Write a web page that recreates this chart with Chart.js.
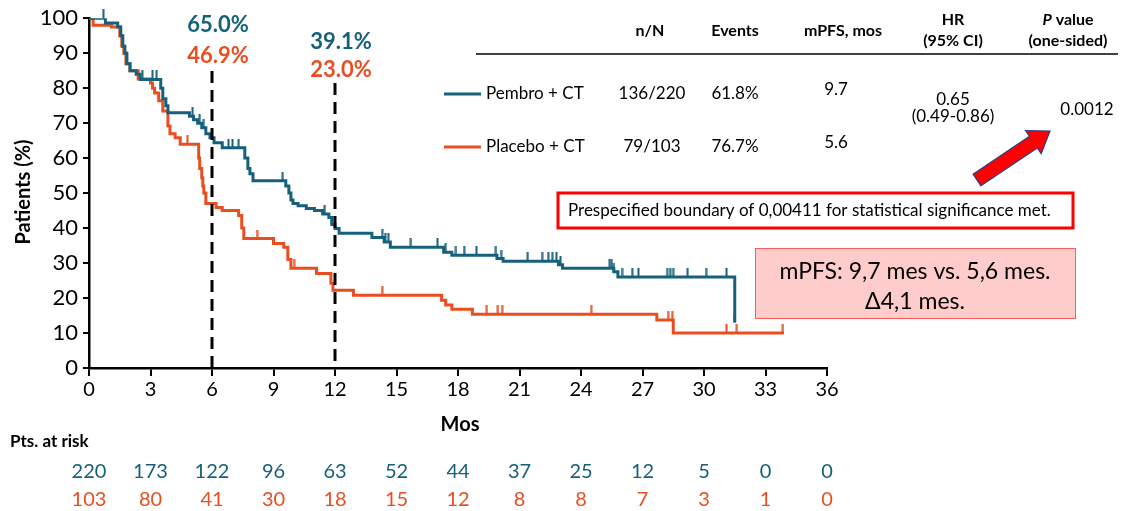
<!DOCTYPE html>
<html>
<head>
<meta charset="utf-8">
<script src="https://cdn.jsdelivr.net/npm/chart.js@4.4.1/dist/chart.umd.min.js"></script>
<style>
  html, body { margin: 0; padding: 0; background: #fff; }
  #km { display: block; }
</style>
</head>
<body>
<canvas id="km" width="1123" height="511"></canvas>
<script>
// ---- data ----
const pembroT = [0, 0.8, 1.4, 1.55, 1.65, 1.75, 1.85, 2.0, 2.3, 2.5, 3.5, 3.6, 3.75, 3.85, 4.9, 5.1, 5.3, 5.5, 5.7, 5.9, 6.1, 6.5, 7.6, 7.75, 7.85, 8.0, 9.6, 9.75, 9.85, 9.95, 10.2, 10.6, 11.0, 11.4, 11.7, 11.85, 12.0, 12.2, 13.8, 14.4, 14.7, 17.3, 17.7, 19.9, 20.2, 22.9, 23.1, 25.6, 25.8, 31.5];
const pembroS = [100, 98.6, 97.5, 95, 92, 90, 87, 85, 84, 82.5, 80, 77, 75, 73, 72, 71, 70, 68.7, 67, 65.8, 64.4, 63, 60, 57, 55.5, 53.5, 52, 50, 48, 47, 46.4, 45.6, 45, 44, 43, 41, 39.9, 38.5, 37.3, 36, 34.5, 33.1, 32.2, 31.3, 30.5, 29.5, 28.5, 27.5, 26, 13];
const pembroCens = [0.7, 2.6, 3.1, 3.3, 5.05, 5.4, 5.6, 6.8, 7.0, 7.3, 9.45, 11.5, 11.85, 14.3, 14.45, 14.6, 15.7, 17.0, 17.4, 17.9, 18.3, 18.9, 19.85, 20.1, 21.4, 22.1, 22.4, 22.6, 22.8, 23.0, 25.4, 25.5, 25.6, 26.0, 26.5, 26.8, 28.2, 28.35, 28.5, 29.2, 30.1, 31.1, 31.5];

const placeboT = [0, 0.2, 1.1, 1.5, 1.6, 1.7, 1.8, 2.0, 2.4, 3.0, 3.1, 3.2, 3.4, 3.6, 3.85, 3.95, 4.2, 4.45, 5.35, 5.4, 5.5, 5.55, 5.6, 5.7, 6.2, 6.5, 7.3, 7.45, 7.55, 9.0, 9.5, 9.7, 9.85, 11.1, 11.8, 11.9, 12.9, 17.2, 17.4, 17.7, 18.7, 27.7, 28.5, 33.9];
const placeboS = [100, 98, 97.5, 95, 92, 90, 87, 85, 82.6, 81.5, 80, 78.6, 76.4, 73.5, 69.2, 67, 65.8, 64, 60, 57, 54.4, 52, 50, 47, 45.9, 45, 43.6, 40, 37, 35.6, 34.5, 31, 28.5, 27, 24.2, 22.2, 20.8, 19.4, 18, 16.8, 15.4, 13.7, 10, 10];
const placeboCens = [4.8, 8.2, 10.0, 14.3, 19.4, 19.95, 20.15, 24.5, 28.25, 28.45, 31.1, 31.6, 33.85];

const xTicks = [0, 3, 6, 9, 12, 15, 18, 21, 24, 27, 30, 33, 36];
const yTicks = [0, 10, 20, 30, 40, 50, 60, 70, 80, 90, 100];
const riskPembro = [220, 173, 122, 96, 63, 52, 44, 37, 25, 12, 5, 0, 0];
const riskPlacebo = [103, 80, 41, 30, 18, 15, 12, 8, 8, 7, 3, 1, 0];

const milestones = [6, 12];
const pembroAt = ['65.0%', '39.1%'];
const placeboAt = ['46.9%', '23.0%'];

const TEAL = '#16607c';
const ORANGE = '#e84e1f';
const FONT = 'Lato, "Open Sans", sans-serif';

// survival value at time t (step function)
function stepAt(T, S, t) {
  let v = S[0];
  for (let i = 0; i < T.length; i++) {
    if (T[i] <= t) v = S[i];
  }
  return v;
}
const toXY = (T, S) => T.map((t, i) => ({ x: t, y: S[i] }));
const censXY = (C, T, S) => C.map(t => ({ x: t, y: stepAt(T, S, t) }));

// small vertical tick sitting on top of the curve
function tickMark(color) {
  const c = document.createElement('canvas');
  c.width = 3; c.height = 18;
  const g = c.getContext('2d');
  g.fillStyle = color;
  g.fillRect(0.5, 0, 2, 9);
  return c;
}

const overlay = {
  id: 'overlay',
  afterDraw(chart) {
    const { ctx } = chart;
    const xs = chart.scales.x;
    const ys = chart.scales.y;
    ctx.save();

    // milestone dashed lines + labels
    const labelTop = [[25, 56, 71], [42, 70, 83]];
    milestones.forEach((m, i) => {
      const px = xs.getPixelForValue(m);
      ctx.strokeStyle = '#000';
      ctx.lineWidth = 3;
      ctx.setLineDash([12, 7]);
      ctx.beginPath();
      ctx.moveTo(px, labelTop[i][2]);
      ctx.lineTo(px, ys.getPixelForValue(0));
      ctx.stroke();
      ctx.setLineDash([]);
      ctx.font = 'bold 22px ' + FONT;
      ctx.textAlign = 'center';
      ctx.textBaseline = 'middle';
      ctx.fillStyle = TEAL;
      ctx.fillText(pembroAt[i], px + 6, labelTop[i][0]);
      ctx.fillStyle = ORANGE;
      ctx.fillText(placeboAt[i], px + 6, labelTop[i][1]);
    });

    // axis titles
    ctx.fillStyle = '#000';
    ctx.font = 'bold 20px ' + FONT;
    ctx.fillText('Mos', 460, 425);
    ctx.save();
    ctx.translate(24, 192);
    ctx.rotate(-Math.PI / 2);
    ctx.fillText('Patients (%)', 0, 0);
    ctx.restore();

    // numbers at risk
    ctx.textAlign = 'left';
    ctx.font = 'bold 17px ' + FONT;
    ctx.fillText('Pts. at risk', 10, 442);
    ctx.textAlign = 'center';
    ctx.font = '20px ' + FONT;
    xTicks.forEach((t, i) => {
      const px = xs.getPixelForValue(t);
      ctx.fillStyle = TEAL;
      ctx.fillText(String(riskPembro[i]), px, 472);
      ctx.fillStyle = ORANGE;
      ctx.fillText(String(riskPlacebo[i]), px, 500);
    });

    // summary table
    ctx.fillStyle = '#000';
    ctx.font = 'bold 16px ' + FONT;
    ctx.fillText('n/N', 650, 31);
    ctx.fillText('Events', 735, 31);
    ctx.fillText('mPFS, mos', 843, 31);
    ctx.fillText('HR', 953, 20);
    ctx.fillText('(95% CI)', 953, 41);
    ctx.fillText('(one-sided)', 1068, 41);
    ctx.font = 'bold italic 16px ' + FONT;
    const pw = ctx.measureText('P').width;
    ctx.font = 'bold 16px ' + FONT;
    const vw = ctx.measureText(' value').width;
    const pStart = 1068 - (pw + vw) / 2;
    ctx.textAlign = 'left';
    ctx.font = 'bold italic 16px ' + FONT;
    ctx.fillText('P', pStart, 20);
    ctx.font = 'bold 16px ' + FONT;
    ctx.fillText(' value', pStart + pw, 20);

    ctx.strokeStyle = '#000';
    ctx.lineWidth = 1.5;
    ctx.beginPath();
    ctx.moveTo(476, 54);
    ctx.lineTo(1118, 54);
    ctx.stroke();

    const rows = [
      { y: 94, color: TEAL, name: 'Pembro + CT', n: '136/220', ev: '61.8%', m: '9.7' },
      { y: 147, color: ORANGE, name: 'Placebo + CT', n: '79/103', ev: '76.7%', m: '5.6' }
    ];
    rows.forEach(r => {
      ctx.strokeStyle = r.color;
      ctx.lineWidth = 3;
      ctx.beginPath();
      ctx.moveTo(444, r.y);
      ctx.lineTo(481, r.y);
      ctx.stroke();
      ctx.fillStyle = '#000';
      ctx.font = '17px ' + FONT;
      ctx.textAlign = 'left';
      ctx.fillText(r.name, 486, r.y);
      ctx.textAlign = 'center';
      ctx.fillText(r.n, 652, r.y);
      ctx.fillText(r.ev, 735, r.y);
      ctx.fillText(r.m, 836, r.y - 4);
    });
    ctx.fillText('0.65', 953, 100);
    ctx.fillText('(0.49-0.86)', 953, 117);
    ctx.fillText('0.0012', 1087, 110);

    // red arrow
    const tail = [977, 180], tip = [1050, 131];
    const dx = tip[0] - tail[0], dy = tip[1] - tail[1];
    const len = Math.hypot(dx, dy);
    const ux = dx / len, uy = dy / len, nx = -uy, ny = ux;
    const neck = [tip[0] - ux * 20, tip[1] - uy * 20];
    const P = (b, k) => [b[0] + nx * k, b[1] + ny * k];
    const pts = [P(tail, 7), P(neck, 7), P(neck, 14), tip, P(neck, -14), P(neck, -7), P(tail, -7)];
    ctx.beginPath();
    pts.forEach((p, i) => (i ? ctx.lineTo(p[0], p[1]) : ctx.moveTo(p[0], p[1])));
    ctx.closePath();
    ctx.fillStyle = '#ff0000';
    ctx.fill();
    ctx.strokeStyle = '#2c3e8c';
    ctx.lineWidth = 1.2;
    ctx.stroke();

    // boundary box
    ctx.fillStyle = '#fff';
    ctx.fillRect(558, 193, 515, 35);
    ctx.strokeStyle = '#ff0000';
    ctx.lineWidth = 3;
    ctx.strokeRect(558, 193, 515, 35);
    ctx.fillStyle = '#000';
    ctx.font = '17px ' + FONT;
    ctx.textAlign = 'left';
    ctx.fillText('Prespecified boundary of 0,00411 for statistical significance met.', 568, 211);

    // mPFS box
    ctx.fillStyle = '#ffcccc';
    ctx.fillRect(755, 248, 320, 70);
    ctx.strokeStyle = '#ff5a5a';
    ctx.lineWidth = 1;
    ctx.strokeRect(755.5, 248.5, 320, 70);
    ctx.fillStyle = '#000';
    ctx.font = '23px ' + FONT;
    ctx.textAlign = 'center';
    ctx.fillText('mPFS: 9,7 mes vs. 5,6 mes.', 915, 272);
    ctx.fillText('\u03944,1 mes.', 915, 302);

    ctx.restore();
  }
};

new Chart(document.getElementById('km'), {
  type: 'line',
  data: {
    datasets: [
      {
        label: 'Pembro + CT',
        data: toXY(pembroT, pembroS),
        borderColor: TEAL,
        borderWidth: 3,
        stepped: true,
        pointRadius: 0,
        fill: false,
        order: 1
      },
      {
        label: 'Pembro censored',
        type: 'scatter',
        data: censXY(pembroCens, pembroT, pembroS),
        pointStyle: tickMark(TEAL),
        pointRadius: 4,
        showLine: false,
        clip: false,
        order: 0
      },
      {
        label: 'Placebo + CT',
        data: toXY(placeboT, placeboS),
        borderColor: ORANGE,
        borderWidth: 3,
        stepped: true,
        pointRadius: 0,
        fill: false,
        order: 3
      },
      {
        label: 'Placebo censored',
        type: 'scatter',
        data: censXY(placeboCens, placeboT, placeboS),
        pointStyle: tickMark(ORANGE),
        pointRadius: 4,
        showLine: false,
        clip: false,
        order: 2
      }
    ]
  },
  options: {
    responsive: false,
    animation: false,
    events: [],
    layout: { padding: { left: 0, top: 17, right: 296, bottom: 113 } },
    plugins: {
      legend: { display: false },
      tooltip: { enabled: false }
    },
    scales: {
      x: {
        type: 'linear',
        min: 0,
        max: 36,
        afterBuildTicks: s => { s.ticks = xTicks.map(v => ({ value: v })); },
        afterFit: s => { s.height = 30; },
        grid: { drawOnChartArea: false, drawTicks: true, tickLength: 8, color: '#000', lineWidth: 2 },
        border: { color: '#000', width: 2.5 },
        ticks: { color: '#000', font: { family: FONT, size: 20 }, padding: 2, maxRotation: 0 }
      },
      y: {
        min: 0,
        max: 100,
        afterBuildTicks: s => { s.ticks = yTicks.map(v => ({ value: v })); },
        afterFit: s => { s.width = 89; },
        grid: { drawOnChartArea: false, drawTicks: true, tickLength: 6, color: '#000', lineWidth: 2 },
        border: { color: '#000', width: 2.5 },
        ticks: { color: '#000', font: { family: FONT, size: 22 }, padding: 5 }
      }
    }
  },
  plugins: [overlay]
});
</script>
</body>
</html>
